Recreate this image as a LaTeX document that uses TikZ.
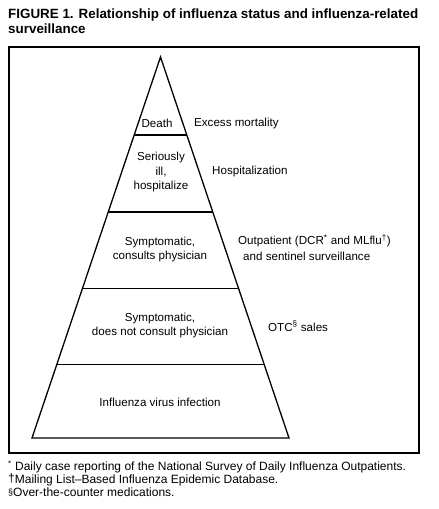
\documentclass[tikz,border=0pt]{standalone}
\usepackage{fontspec}
\setmainfont{Liberation Sans}
\begin{document}
\begin{tikzpicture}[x=1pt,y=-1pt,
  txt/.style={inner sep=0pt,font=\fontsize{11.6}{14.5}\selectfont},
  ctxt/.style={txt,align=center},
  ltxt/.style={txt,anchor=west},
  ftxt/.style={inner sep=0pt,anchor=west,font=\fontsize{12}{13}\selectfont},
  ttl/.style={inner sep=0pt,anchor=west,font=\fontsize{13.4}{14}\selectfont\bfseries},
  tier/.style={line width=1.3pt},
  frame/.style={line width=2pt}]
\useasboundingbox (0,0) rectangle (439,509);
% title
\node[ttl] (t1) at (8,15) {FIGURE 1. Relationship of influenza status and influenza-related};
\node[ttl] (t2) at (8,29) {surveillance};
% frame
\draw[frame] (9,47) rectangle (419,453);
% pyramid
\coordinate (apex) at (160.5,57);
\coordinate (bl) at (32,438);
\coordinate (br) at (289,438);
\draw[tier, line join=miter] (bl) -- (apex) -- (br) -- cycle;
\draw[tier] (134.2,135) -- (186.8,135);
\draw[tier] (108.2,212) -- (212.8,212);
\draw[tier] (82.5,288.5) -- (238.5,288.5);
\draw[tier] (56.8,364.5) -- (264.2,364.5);
% tier texts
\node[ctxt] (death) at (157,123) {Death};
\node[ctxt] (ill) at (161,172) {Seriously\\ill,\\hospitalize};
\node[ctxt] (cons) at (160,249.5) {Symptomatic,\\consults physician};
\node[ctxt] (ncons) at (160,325.5) {Symptomatic,\\does not consult physician};
\node[ctxt] (inf) at (160,402) {Influenza virus infection};
% surveillance texts
\node[ltxt] (em) at (194,123) {Excess mortality};
\node[ltxt] (hosp) at (212,171) {Hospitalization};
\node[ltxt] (out) at (238,241) {Outpatient (DCR\textsuperscript{*} and MLflu\textsuperscript{\dag})};
\node[ltxt] (sent) at (243,256) {and sentinel surveillance};
\node[ltxt] (otc) at (268,326) {OTC\textsuperscript{\S} sales};
% footnotes
\node[ftxt] (f1) at (8,467) {\textsuperscript{*} Daily case reporting of the National Survey of Daily Influenza Outpatients.};
\node[ftxt] (f2) at (8,480) {\raisebox{0.25ex}{\dag}Mailing List--Based Influenza Epidemic Database.};
\node[ftxt] (f3) at (8,492.5) {\raisebox{0.25ex}{\small\S}Over-the-counter medications.};
\end{tikzpicture}
\end{document}
